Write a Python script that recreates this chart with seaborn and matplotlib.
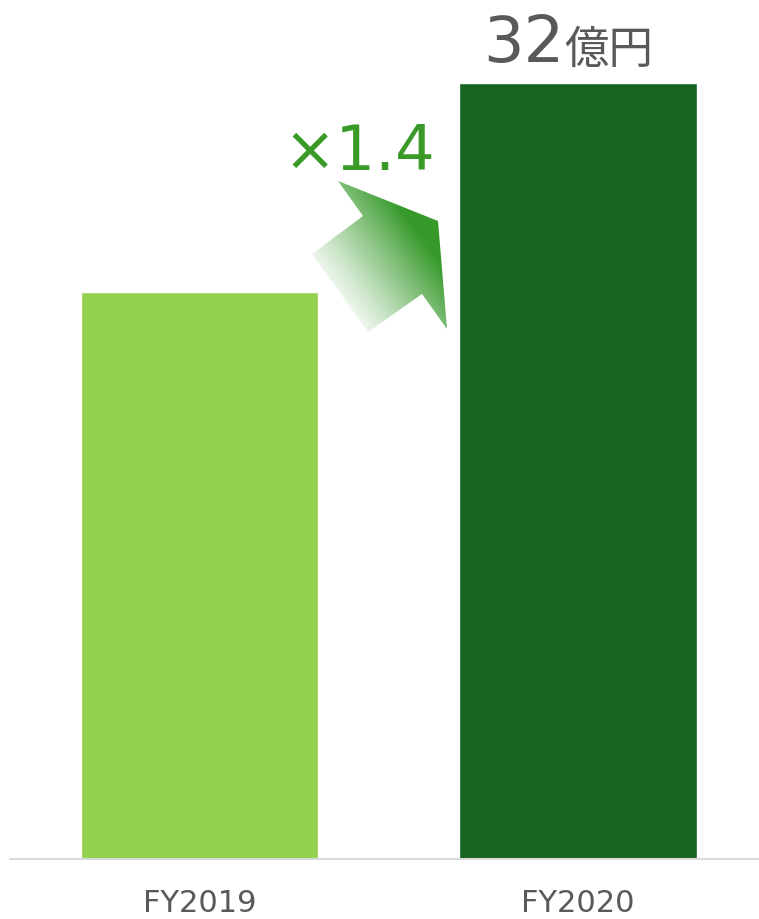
import numpy as np
import matplotlib
matplotlib.use('Agg')
import matplotlib.pyplot as plt
import seaborn as sns
from matplotlib.patches import Polygon
from matplotlib.colors import to_rgb

# data
years = ['FY2019', 'FY2020']
sales = [23.4, 32]          # 億円
bar_colors = ['#92d050', '#16651e']
unit = '億円'

sns.set_style('white')
plt.rcParams['font.family'] = ['DejaVu Sans', 'Noto Sans CJK JP']

W, H = 759, 920
fig = plt.figure(figsize=(W / 100, H / 100), dpi=100)

# main axes: bottom line at y=860px, x from 10px to right edge
ax = fig.add_axes([10 / W, (H - 860) / H, (W - 10) / W, 860 / H])
sns.barplot(x=years, y=sales, hue=years, palette=bar_colors, legend=False,
            width=0.626, saturation=1, ax=ax)
ax.set_xlim(-0.5, 1.478)
ax.set_ylim(0, 860 / 24.25)
for s in ['top', 'right', 'left']:
    ax.spines[s].set_visible(False)
ax.spines['bottom'].set_color('#d9d9d9')
ax.spines['bottom'].set_linewidth(1.5)
ax.set_yticks([])
ax.set_xlabel('')
ax.set_ylabel('')
ax.tick_params(axis='x', length=0, pad=21, labelsize=22, labelcolor='#595959')

# value label on the latest bar
ax.annotate(f'{sales[-1]:g}', xy=(1, sales[-1]), xytext=(-10, 15.5),
            textcoords='offset points', ha='right', va='baseline',
            fontsize=46, color='#595959')
ax.annotate(unit, xy=(1, sales[-1]), xytext=(-10, 15.5),
            textcoords='offset points', ha='left', va='baseline',
            fontsize=32, color='#595959', family=['Noto Sans CJK JP'])

# overlay in pixel coordinates for the growth arrow
ov = fig.add_axes([0, 0, 1, 1], zorder=5)
ov.set_xlim(0, W)
ov.set_ylim(H, 0)
ov.axis('off')

ratio = sales[1] / sales[0]
ov.text(359, 170, f'×{ratio:.1f}', ha='center', va='baseline',
        fontsize=45, color='#3a9a28')

arrow_pts = np.array([[338, 182], [438, 222], [447, 330], [422, 295],
                      [368, 333], [312, 255], [363, 217]])
poly = Polygon(arrow_pts, closed=True, facecolor='none', edgecolor='none')
ov.add_patch(poly)

x0, x1 = arrow_pts[:, 0].min(), arrow_pts[:, 0].max()
y0, y1 = arrow_pts[:, 1].min(), arrow_pts[:, 1].max()
gx, gy = np.meshgrid(np.linspace(x0, x1, 200), np.linspace(y0, y1, 200))
d = np.array([0.81, -0.59])
proj = (gx - 325) * d[0] + (gy - 300) * d[1]
alpha = np.clip(proj / 115, 0, 1) ** 1.2
img = np.zeros(gx.shape + (4,))
img[..., :3] = to_rgb('#36992a')
img[..., 3] = alpha
im = ov.imshow(img, extent=(x0, x1, y1, y0), origin='upper',
               interpolation='bilinear', aspect='auto')
im.set_clip_path(poly)
ov.set_xlim(0, W)
ov.set_ylim(H, 0)

fig.savefig('out.png', dpi=100)
